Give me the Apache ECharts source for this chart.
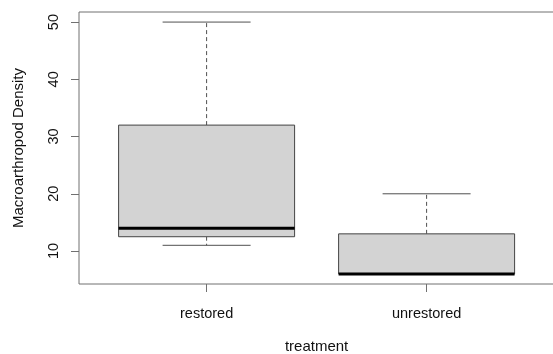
<!DOCTYPE html>
<html>
<head>
<meta charset="utf-8">
<script src="https://cdn.jsdelivr.net/npm/echarts@6/dist/echarts.min.js"></script>
<style>
html,body{margin:0;padding:0;background:#fff;}
#chart{width:553px;height:354px;}
</style>
</head>
<body>
<div id="chart"></div>
<script>
const categories = ['restored', 'unrestored'];
const lowerWhisker = [11, 6];
const q1 = [12.5, 6];
const median = [14, 6];
const q3 = [32, 13];
const upperWhisker = [50, 20];
const yTicks = [10, 20, 30, 40, 50];

const data = categories.map((c, i) => [i + 1, lowerWhisker[i], q1[i], median[i], q3[i], upperWhisker[i]]);

const chart = echarts.init(document.getElementById('chart'), null, {renderer: 'canvas'});
const FONT = 'Liberation Sans, Arial, Helvetica, sans-serif';
const boxHalf = 0.4, capHalf = 0.2;

chart.setOption({
  animation: false,
  backgroundColor: '#fff',
  grid: {left: 79, right: -1.2, top: 12, bottom: 70, show: true, borderColor: '#707070', borderWidth: 1,
    containLabel: false, outerBoundsMode: 'none'},
  xAxis: {
    type: 'value', min: 0.42, max: 2.58,
    axisLine: {show: false},
    splitLine: {show: false},
    axisTick: {show: true, length: 8, customValues: [1, 2], lineStyle: {color: '#707070'}},
    axisLabel: {customValues: [1, 2], margin: 22, fontSize: 14.5, fontFamily: FONT, color: '#111',
      formatter: v => categories[Math.round(v) - 1] || ''},
    name: 'treatment', nameLocation: 'middle', nameGap: 55,
    nameTextStyle: {fontSize: 15, fontFamily: FONT, color: '#111'}
  },
  yAxis: {
    type: 'value', min: 4.24, max: 51.76,
    axisLine: {show: false},
    splitLine: {show: false},
    axisTick: {show: true, length: 8, customValues: yTicks, lineStyle: {color: '#707070'}},
    axisLabel: {customValues: yTicks, rotate: 90, margin: 18, fontSize: 14.5, fontFamily: FONT, color: '#111'},
    name: 'Macroarthropod Density', nameLocation: 'middle', nameGap: 53,
    nameTextStyle: {fontSize: 15, fontFamily: FONT, color: '#111'}
  },
  series: [{
    type: 'custom',
    data: data,
    encode: {x: 0, y: [1, 2, 3, 4, 5]},
    renderItem: function (params, api) {
      const x = api.value(0);
      const lw = api.value(1), a = api.value(2), m = api.value(3), b = api.value(4), uw = api.value(5);
      const tl = api.coord([x - boxHalf, b]);
      const br = api.coord([x + boxHalf, a]);
      const mL = api.coord([x - boxHalf, m]);
      const mR = api.coord([x + boxHalf, m]);
      const cTop = api.coord([x, uw]);
      const cQ3 = api.coord([x, b]);
      const cQ1 = api.coord([x, a]);
      const cLow = api.coord([x, lw]);
      const capTL = api.coord([x - capHalf, uw]);
      const capTR = api.coord([x + capHalf, uw]);
      const capBL = api.coord([x - capHalf, lw]);
      const capBR = api.coord([x + capHalf, lw]);
      const lineC = '#505050';
      return {
        type: 'group',
        children: [
          {type: 'line', shape: {x1: cQ3[0], y1: cQ3[1], x2: cTop[0], y2: cTop[1]},
            style: {stroke: lineC, lineWidth: 1, lineDash: [4, 3]}},
          {type: 'line', shape: {x1: cQ1[0], y1: cQ1[1], x2: cLow[0], y2: cLow[1]},
            style: {stroke: lineC, lineWidth: 1, lineDash: [4, 3]}},
          {type: 'line', shape: {x1: capTL[0], y1: capTL[1], x2: capTR[0], y2: capTR[1]},
            style: {stroke: lineC, lineWidth: 1}},
          {type: 'line', shape: {x1: capBL[0], y1: capBL[1], x2: capBR[0], y2: capBR[1]},
            style: {stroke: lineC, lineWidth: 1}},
          {type: 'rect', shape: {x: tl[0], y: tl[1], width: br[0] - tl[0], height: br[1] - tl[1]},
            style: {fill: '#d3d3d3', stroke: '#444', lineWidth: 1}},
          {type: 'line', shape: {x1: mL[0], y1: mL[1], x2: mR[0], y2: mR[1]},
            style: {stroke: '#000', lineWidth: 3}}
        ]
      };
    }
  }]
});
</script>
</body>
</html>
